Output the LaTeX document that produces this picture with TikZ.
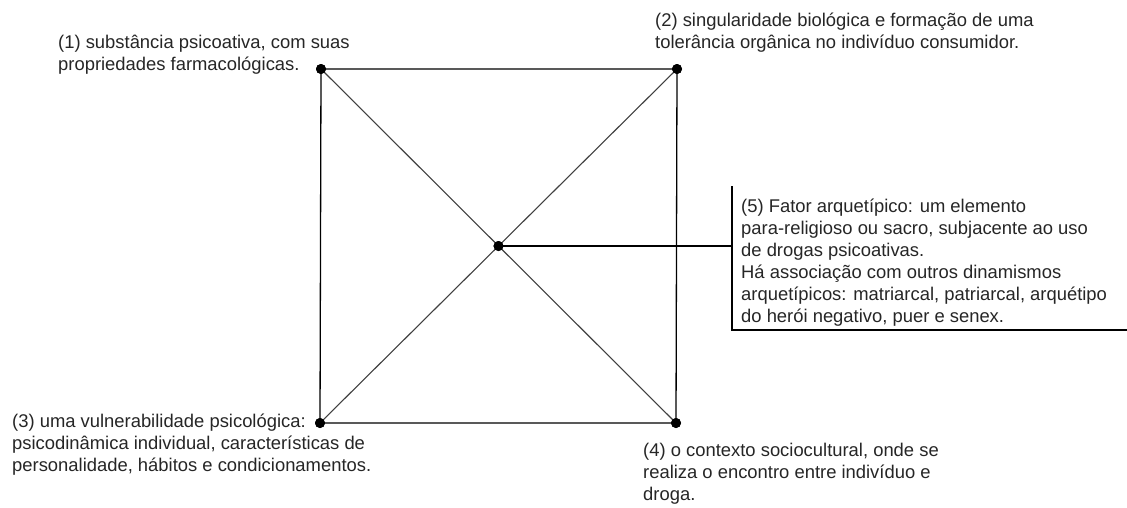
\documentclass[tikz,border=0pt]{standalone}
\usepackage{fontspec}
\setmainfont{Liberation Sans}
\begin{document}
\begin{tikzpicture}[x=1pt,y=-1pt,
  dot/.style={circle,fill=black,inner sep=0pt,minimum size=10pt},
  edge/.style={black,line width=1.3pt},
  diag/.style={black!75,line width=1.1pt},
  lbl/.style={anchor=base west,align=left,inner sep=0pt,font=\fontsize{18.4}{22}\selectfont,text=black!85}]
\useasboundingbox[fill=white] (0,0) rectangle (1127,507);
\node[dot] (tl) at (321,69) {};
\node[dot] (tr) at (677,69) {};
\node[dot] (bl) at (320,423) {};
\node[dot] (br) at (676,423) {};
\node[dot] (c) at (498.5,246) {};
\coordinate (j) at (732,246);
\coordinate (btop) at (732,186);
\coordinate (bbot) at (732,330);
\coordinate (bend) at (1127,330);
\draw[diag] (tl.center) -- (br.center);
\draw[diag] (tr.center) -- (bl.center);
\draw[edge] (tl.center) -- (tr.center) -- (br.center) -- (bl.center) -- cycle;
\draw[edge] (c.center) -- (j);
\draw[edge] (btop) -- (bbot) -- (bend);
\node[dot] at (tl) {};
\node[dot] at (tr) {};
\node[dot] at (bl) {};
\node[dot] at (br) {};
\node[dot] at (c) {};
\node[lbl] (t1) at (58,70) {(1) substância psicoativa, com suas\\propriedades farmacológicas.};
\node[lbl] (t2) at (655,48) {(2) singularidade biológica e formação de uma\\tolerância orgânica no indivíduo consumidor.};
\node[lbl] (t3) at (12,471) {(3) uma vulnerabilidade psicológica:\\psicodinâmica individual, características de\\personalidade, hábitos e condicionamentos.};
\node[lbl] (t4) at (643,500) {(4) o contexto sociocultural, onde se\\realiza o encontro entre indivíduo e\\droga.};
\node[lbl] (t5) at (741,322) {(5) Fator arquetípico: um elemento\\para-religioso ou sacro, subjacente ao uso\\de drogas psicoativas.\\Há associação com outros dinamismos\\arquetípicos: matriarcal, patriarcal, arquétipo\\do herói negativo, puer e senex.};
\end{tikzpicture}
\end{document}
